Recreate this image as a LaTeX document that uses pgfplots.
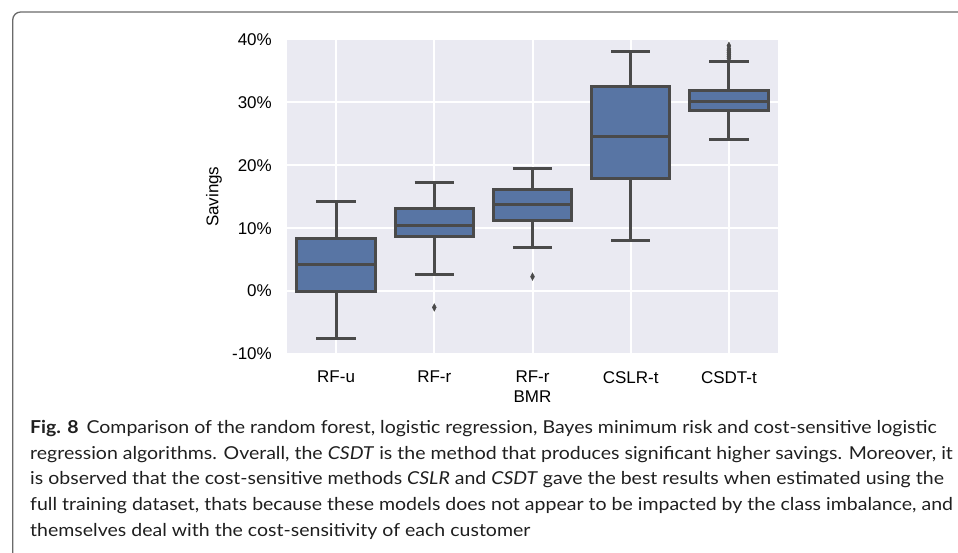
\documentclass[border=0pt]{standalone}
\usepackage{fontspec}
\setmainfont{Liberation Sans}
\newfontfamily\capfont{Lato}
\usepackage{pgfplots}
\pgfplotsset{compat=1.18}
\usepgfplotslibrary{statistics}
\definecolor{bg}{HTML}{EAEAF2}
\definecolor{boxc}{HTML}{5875A4}
\definecolor{edge}{HTML}{4A4A4A}
\definecolor{frame}{HTML}{6A6A6A}
\pgfplotsset{
  mybox/.style={
    boxplot/draw direction=y,
    boxplot/box extend=0.8,
    boxplot/whisker extend=0.4,
    boxplot/every box/.style={fill=boxc, draw=edge, line width=3pt},
    boxplot/every whisker/.style={draw=edge, line width=3pt},
    boxplot/every median/.style={draw=edge, line width=3pt},
    draw=edge, line width=3pt,
    mark=diamond*, mark size=3.7pt,
    mark options={fill=edge, draw=edge, xscale=0.7, line width=0.5pt, solid},
  }
}
\newcommand\capline[1]{\scalebox{1.096}[1]{#1}}
\begin{document}
\begin{tikzpicture}
\useasboundingbox (0pt,0pt) rectangle (958pt,553pt);
\draw[frame, line width=1.3pt, rounded corners=8pt] (12.7pt,-10pt) -- (12.7pt,541pt) -- (975pt,541pt);
\begin{axis}[
  at={(287pt,199pt)}, anchor=south west,
  scale only axis, width=491pt, height=314.5pt,
  xmin=-0.5, xmax=4.5, ymin=-10, ymax=40,
  axis background/.style={fill=bg},
  axis line style={draw=none},
  major tick length=0pt,
  grid=major, grid style={white, line width=2pt},
  xtick={0,1,2,3,4},
  xticklabels={RF-u,RF-r,RF-r\\BMR,CSLR-t,CSDT-t},
  ytick={-10,0,10,20,30,40},
  yticklabels={-10\%,0\%,10\%,20\%,30\%,40\%},
  ticklabel style={font=\fontsize{17}{19.5}\selectfont},
  xticklabel style={align=center, inner sep=0pt, anchor=north, yshift=-17pt},
  yticklabel style={inner sep=0pt, anchor=east, xshift=-15pt},
  ylabel={Savings},
  every axis y label/.style={at={(ticklabel cs:0.5)}, rotate=90, anchor=south, yshift=10pt, inner sep=0pt, font=\fontsize{17}{19}\selectfont},
  clip=false,
]
\addplot[mybox, boxplot prepared={draw position=0, lower whisker=-7.6, lower quartile=0, median=4.3, upper quartile=8.3, upper whisker=14.2}] coordinates {};
\addplot[mybox, boxplot prepared={draw position=1, lower whisker=2.7, lower quartile=8.6, median=10.4, upper quartile=13.2, upper whisker=17.2}] coordinates {(1,-2.6)};
\addplot[mybox, boxplot prepared={draw position=2, lower whisker=7.0, lower quartile=11.3, median=13.7, upper quartile=16.2, upper whisker=19.5}] coordinates {(2,2.3)};
\addplot[mybox, boxplot prepared={draw position=3, lower whisker=8.0, lower quartile=17.9, median=24.6, upper quartile=32.6, upper whisker=38.1}] coordinates {};
\addplot[mybox, boxplot prepared={draw position=4, lower whisker=24.1, lower quartile=28.7, median=30.1, upper quartile=31.9, upper whisker=36.5}] coordinates {(4,39.0) (4,38.5) (4,38.2) (4,37.9) (4,37.6) (4,37.3) (4,37.0)};
\end{axis}
\begin{scope}[every node/.style={anchor=base west, inner sep=0pt, text=black!88, font=\capfont\fontsize{17.8}{20}\selectfont}]
\node at (30pt,119pt) {\capline{\textbf{Fig. 8}\hspace{0.4em}Comparison of the random forest, logistic regression, Bayes minimum risk and cost-sensitive logistic}};
\node at (30pt,93.5pt) {\capline{regression algorithms. Overall, the \textit{CSDT} is the method that produces significant higher savings. Moreover, it}};
\node at (30pt,68pt) {\capline{is observed that the cost-sensitive methods \textit{CSLR} and \textit{CSDT} gave the best results when estimated using the}};
\node at (30pt,42pt) {\capline{full training dataset, thats because these models does not appear to be impacted by the class imbalance, and}};
\node at (30pt,16pt) {\capline{themselves deal with the cost-sensitivity of each customer}};
\end{scope}
\end{tikzpicture}
\end{document}
